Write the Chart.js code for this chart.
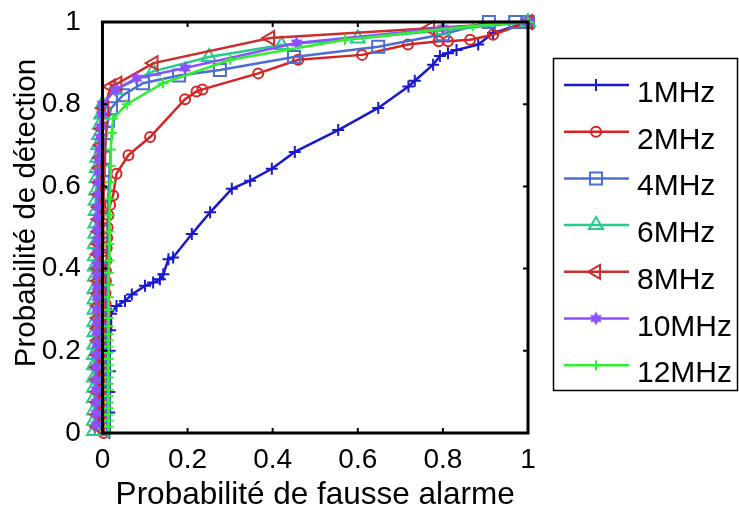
<!DOCTYPE html>
<html>
<head>
<meta charset="utf-8">
<title>Courbes ROC</title>
<script src="https://cdn.jsdelivr.net/npm/chart.js@4.4.1/dist/chart.umd.min.js"></script>
<style>
  html, body { margin: 0; padding: 0; background: #fff; }
</style>
</head>
<body>
<canvas id="roc" width="739" height="511"></canvas>
<script>
// series names and colours
const labels = ['1MHz', '2MHz', '4MHz', '6MHz', '8MHz', '10MHz', '12MHz'];
const colors = ['#1a1acc', '#d62424', '#4d6cd4', '#26cc88', '#cc2e2e', '#8c50ff', '#30ee30'];

// axis ticks
const tickVals = [0, 0.2, 0.4, 0.6, 0.8, 1];
const tickText = ['0', '0.2', '0.4', '0.6', '0.8', '1'];
const xTitle = 'Probabilité de fausse alarme';
const yTitle = 'Probabilité de détection';

// 1MHz
const pfa1 = [0.016, 0.016, 0.016, 0.017, 0.017, 0.018, 0.02, 0.033, 0.053, 0.069, 0.1, 0.119, 0.135, 0.143, 0.155, 0.166,
  0.21, 0.253, 0.304, 0.347, 0.398, 0.452, 0.554, 0.648, 0.719, 0.734, 0.777, 0.793, 0.812, 0.832, 0.883, 0.918, 1];
const pd1 = [0, 0.05, 0.1, 0.15, 0.2, 0.25, 0.29, 0.309, 0.321, 0.337, 0.358, 0.366, 0.374, 0.386, 0.423, 0.427,
  0.484, 0.537, 0.594, 0.614, 0.643, 0.684, 0.737, 0.791, 0.843, 0.857, 0.896, 0.917, 0.924, 0.932, 0.945, 0.973, 1];

// 2MHz
const pfa2 = [0.003, 0.003, 0.003, 0.004, 0.004, 0.004, 0.005, 0.005, 0.005, 0.006, 0.006, 0.006, 0.007, 0.007,
  0.008, 0.008, 0.009, 0.01, 0.011, 0.012, 0.014, 0.018,
  0.025, 0.033, 0.061, 0.112, 0.194, 0.221, 0.235, 0.366, 0.46, 0.61, 0.718, 0.79, 0.812, 0.864, 0.918, 1];
const pd2 = [0, 0.025, 0.05, 0.08, 0.1, 0.13, 0.155, 0.18, 0.21, 0.235, 0.26, 0.29, 0.315, 0.34,
  0.37, 0.395, 0.42, 0.45, 0.475, 0.5, 0.53, 0.555,
  0.578, 0.631, 0.676, 0.72, 0.812, 0.831, 0.836, 0.875, 0.908, 0.92, 0.945, 0.953, 0.953, 0.957, 0.969, 1];

// 4MHz
const pfa4 = [-0.004, -0.004, -0.004, -0.004, -0.004, -0.004, -0.004, -0.004, -0.003, -0.003, -0.003, -0.003, -0.003,
  -0.003, -0.002, -0.002, -0.002, -0.002, -0.001, 0, 0.001, 0.002, 0.004, 0.006, 0.009, 0.013,
  0.02, 0.048, 0.095, 0.18, 0.276, 0.45, 0.648, 0.8, 0.908, 0.97, 1];
const pd4 = [0.01, 0.04, 0.07, 0.1, 0.13, 0.16, 0.19, 0.22, 0.25, 0.28, 0.31, 0.34, 0.37,
  0.4, 0.43, 0.46, 0.49, 0.52, 0.55, 0.58, 0.61, 0.64, 0.67, 0.7, 0.73, 0.76,
  0.79, 0.822, 0.851, 0.87, 0.883, 0.915, 0.94, 0.97, 1, 1, 1];

// 6MHz
const pfa6 = [-0.02, -0.02, -0.02, -0.02, -0.02, -0.02, -0.02, -0.02, -0.019, -0.019, -0.019, -0.019, -0.019, -0.019, -0.018,
  -0.018, -0.018, -0.018, -0.017, -0.017, -0.016, -0.016, -0.015, -0.014, -0.013, -0.012, -0.01, -0.008, -0.006, -0.003,
  0, 0.03, 0.119, 0.25, 0.421, 0.6, 0.8, 1];
const pd6 = [0.005, 0.03, 0.055, 0.085, 0.11, 0.135, 0.165, 0.19, 0.215, 0.245, 0.27, 0.3, 0.325, 0.35, 0.38,
  0.405, 0.43, 0.46, 0.485, 0.51, 0.54, 0.565, 0.59, 0.62, 0.645, 0.67, 0.7, 0.725, 0.75, 0.775,
  0.8, 0.835, 0.88, 0.915, 0.944, 0.96, 0.98, 1];

// 8MHz
const pfa8 = [-0.01, -0.01, -0.01, -0.01, -0.01, -0.01, -0.009, -0.009, -0.009, -0.009, -0.009, -0.008, -0.008,
  -0.008, -0.008, -0.007, -0.007, -0.007, -0.006, -0.006, -0.005, -0.004, -0.003, -0.002, 0, 0.004,
  0.02, 0.035, 0.12, 0.394, 0.77, 1];
const pd8 = [0.015, 0.045, 0.075, 0.1, 0.13, 0.16, 0.19, 0.225, 0.255, 0.28, 0.31, 0.34, 0.37,
  0.4, 0.435, 0.46, 0.49, 0.52, 0.55, 0.58, 0.61, 0.645, 0.67, 0.7, 0.74, 0.79,
  0.843, 0.85, 0.9, 0.961, 0.985, 1];

// 10MHz
const pfa10 = [-0.015, -0.015, -0.015, -0.015, -0.015, -0.015, -0.014, -0.014, -0.014, -0.014, -0.014, -0.013, -0.013,
  -0.013, -0.013, -0.012, -0.012, -0.012, -0.011, -0.011, -0.01, -0.01, -0.009, -0.008, -0.007, -0.006, -0.004, -0.002,
  0, 0.03, 0.08, 0.194, 0.456, 0.8, 1];
const pd10 = [0.02, 0.048, 0.075, 0.105, 0.13, 0.16, 0.19, 0.215, 0.245, 0.27, 0.3, 0.33, 0.355,
  0.385, 0.41, 0.44, 0.47, 0.495, 0.525, 0.55, 0.58, 0.61, 0.635, 0.665, 0.69, 0.72, 0.745, 0.775,
  0.8, 0.835, 0.863, 0.888, 0.949, 0.985, 1];

// 12MHz
const pfa12 = [0.014, 0.014, 0.014, 0.014, 0.014, 0.014, 0.014, 0.014, 0.014, 0.014, 0.014, 0.014, 0.014, 0.014,
  0.014, 0.014, 0.014, 0.014, 0.014, 0.015, 0.015, 0.015, 0.015, 0.016, 0.016, 0.016, 0.017, 0.017, 0.018, 0.019, 0.02,
  0.022, 0.025, 0.057, 0.142, 0.3, 0.57, 0.87, 1];
const pd12 = [0, 0.015, 0.03, 0.045, 0.06, 0.075, 0.09, 0.105, 0.12, 0.135, 0.15, 0.165, 0.18, 0.195,
  0.21, 0.225, 0.24, 0.26, 0.28, 0.3, 0.33, 0.36, 0.39, 0.42, 0.46, 0.49, 0.53, 0.57, 0.61, 0.65, 0.69,
  0.73, 0.765, 0.8, 0.851, 0.908, 0.957, 0.99, 1];

const pfa = [pfa1, pfa2, pfa4, pfa6, pfa8, pfa10, pfa12];
const pd = [pd1, pd2, pd4, pd6, pd8, pd10, pd12];

// filled six-point star, MATLAB 'h' marker
function hexStar(color, r) {
  const c = document.createElement('canvas');
  const s = Math.ceil(r * 2 + 2);
  c.width = c.height = s;
  const g = c.getContext('2d');
  g.fillStyle = color;
  g.beginPath();
  for (let k = 0; k < 12; k++) {
    const a = -Math.PI / 2 + k * Math.PI / 6;
    const rr = k % 2 ? r * 0.55 : r;
    g.lineTo(s / 2 + rr * Math.cos(a), s / 2 + rr * Math.sin(a));
  }
  g.closePath();
  g.fill();
  return c;
}

const markers = [
  {pointStyle: 'cross', radius: 6, rotation: 0},
  {pointStyle: 'circle', radius: 5, rotation: 0},
  {pointStyle: 'rect', radius: 8.5, rotation: 0},
  {pointStyle: 'triangle', radius: 8, rotation: 0},
  {pointStyle: 'triangle', radius: 8, rotation: -90},
  {pointStyle: hexStar(colors[5], 7), radius: 7, rotation: 0},
  {pointStyle: 'cross', radius: 5, rotation: 0}
];

const datasets = labels.map((name, i) => ({
  label: name,
  data: pfa[i].map((v, k) => ({x: v, y: pd[i][k]})),
  borderColor: colors[i],
  backgroundColor: 'transparent',
  borderWidth: 2.5,
  pointStyle: markers[i].pointStyle,
  pointRadius: markers[i].radius,
  pointRotation: markers[i].rotation,
  pointBorderColor: colors[i],
  pointBorderWidth: 2,
  pointBackgroundColor: 'transparent',
  tension: 0,
  clip: false,
  order: labels.length - i
}));

const FONT = "'Liberation Sans', Arial, sans-serif";
Chart.defaults.font.family = FONT;
Chart.defaults.color = '#000';

// axes box (from x = 0), inner ticks, axis titles and the legend on the right
const frame = {
  id: 'frame',
  afterDatasetsDraw(chart) {
    const {ctx, chartArea: a, scales: {x, y}} = chart;
    const x0 = x.getPixelForValue(0);
    const x1 = x.getPixelForValue(1);
    ctx.save();
    ctx.strokeStyle = '#000';
    ctx.lineWidth = 3;
    ctx.strokeRect(x0, a.top, x1 - x0, a.bottom - a.top);
    ctx.lineWidth = 2;
    ctx.beginPath();
    tickVals.slice(1, -1).forEach(v => {
      const px = x.getPixelForValue(v);
      ctx.moveTo(px, a.bottom); ctx.lineTo(px, a.bottom - 5);
      ctx.moveTo(px, a.top); ctx.lineTo(px, a.top + 5);
      const py = y.getPixelForValue(v);
      ctx.moveTo(x0, py); ctx.lineTo(x0 + 5, py);
      ctx.moveTo(x1, py); ctx.lineTo(x1 - 5, py);
    });
    ctx.stroke();

    // axis titles
    ctx.fillStyle = '#000';
    ctx.textAlign = 'center';
    ctx.textBaseline = 'middle';
    ctx.font = '31.5px ' + FONT;
    ctx.fillText(xTitle, (x0 + x1) / 2, 495);
    ctx.save();
    ctx.translate(27, 213);
    ctx.rotate(-Math.PI / 2);
    ctx.font = '29.5px ' + FONT;
    ctx.fillText(yTitle, 0, 0);
    ctx.restore();

    // legend
    ctx.strokeStyle = '#000';
    ctx.lineWidth = 1.5;
    ctx.strokeRect(553.5, 58.5, 184, 332);
    ctx.font = '30px ' + FONT;
    ctx.textAlign = 'left';
    ctx.textBaseline = 'alphabetic';
    labels.forEach((name, i) => {
      const ly = 85 + i * 46.7;
      ctx.strokeStyle = colors[i];
      ctx.lineWidth = 2.5;
      ctx.beginPath();
      ctx.moveTo(564, ly); ctx.lineTo(629, ly);
      ctx.stroke();
      ctx.lineWidth = 2;
      ctx.fillStyle = 'rgba(0,0,0,0)';
      Chart.helpers.drawPoint(ctx, {
        pointStyle: markers[i].pointStyle,
        rotation: markers[i].rotation,
        radius: markers[i].radius,
        borderWidth: 2
      }, 596, ly);
      ctx.fillStyle = '#000';
      ctx.fillText(name, 637, ly + 17);
    });
    ctx.restore();
  }
};

const axisCommon = {
  type: 'linear',
  max: 1,
  grid: {display: false, drawTicks: false},
  border: {display: false},
  afterBuildTicks: s => { s.ticks = tickVals.map(v => ({value: v})); }
};

// x starts a little below 0 so the markers hugging Pfa = 0 stay visible
new Chart(document.getElementById('roc'), {
  type: 'line',
  data: {datasets},
  options: {
    responsive: false,
    animation: false,
    layout: {padding: {top: 22, right: 211, left: 0, bottom: 0}},
    plugins: {legend: {display: false}, tooltip: {enabled: false}},
    scales: {
      x: Object.assign({}, axisCommon, {
        min: -0.03,
        ticks: {font: {size: 28}, padding: 10, maxRotation: 0,
          callback: v => tickText[tickVals.indexOf(v)]},
        afterFit: s => { s.height = 78; s.paddingLeft = 0; s.paddingRight = 0; }
      }),
      y: Object.assign({}, axisCommon, {
        min: 0,
        ticks: {font: {size: 28}, padding: 9,
          callback: v => tickText[tickVals.indexOf(v)]},
        afterFit: s => { s.width = 89.7; s.paddingTop = 0; s.paddingBottom = 0; }
      })
    }
  },
  plugins: [frame]
});
</script>
</body>
</html>
